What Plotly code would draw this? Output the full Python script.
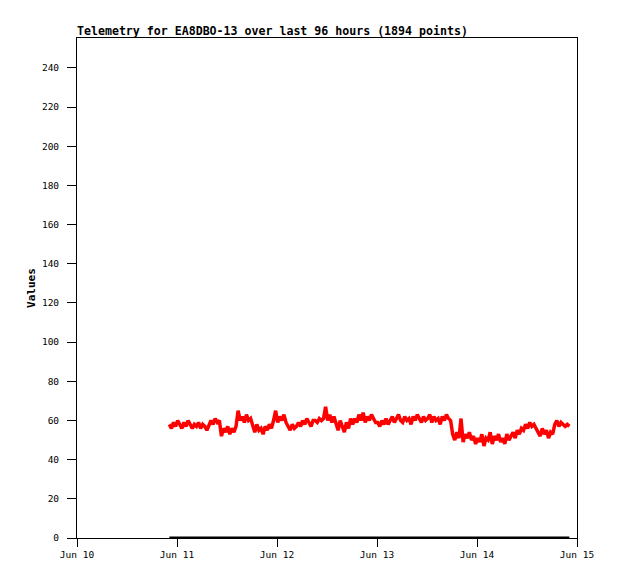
import pandas as pd
import plotly.graph_objects as go

START = "2024-06-10 22:10"
STEP = "30min"

values = [
    58, 56, 59, 57, 60, 58, 56, 59, 57, 60,
    58, 56, 58, 57, 59, 56, 58, 57, 55, 58,
    60, 58, 61, 59, 60,
    52, 56, 54, 57, 53, 56, 54, 57,
    65, 60, 62, 59, 63, 60, 61,
    57, 54, 58, 55, 56, 53, 57, 55, 58, 56,
    60, 65, 59, 62, 60, 63, 59,
    57, 55, 58, 56, 57,
    59, 57, 60, 58, 61, 59, 57, 60,
    60, 59, 61, 60, 61,
    67,
    60, 63, 59, 62,
    58, 55, 60, 57, 54, 59, 56, 61, 58,
    61, 59, 63, 60, 64, 59, 62, 60, 63, 61, 59,
    59, 57, 60, 58, 61, 58,
    60, 62, 59, 61, 63, 60, 59, 62, 60, 61,
    58, 62, 60, 63, 61, 59, 62, 60, 61, 63,
    59, 62, 60, 61, 58, 62, 60, 63, 61, 60,
    53, 50, 54, 51, 61, 49, 53, 51, 54, 50,
    52, 48, 51, 49, 53, 47, 51, 50, 54, 48,
    52, 50, 53, 49, 51, 48, 53, 50,
    52, 54, 51, 55, 53, 56, 55,
    58, 56, 59, 57, 58, 56,
    54, 52, 56, 53, 55, 51, 54, 53,
    58, 60, 57, 59, 58, 57, 58, 57,
]
zeros = [0] * len(values)
times = pd.date_range(START, periods=len(values), freq=STEP)

y_ticks = list(range(0, 241, 20))

mono = "DejaVu Sans Mono"

fig = go.Figure()
fig.add_trace(go.Scatter(x=times, y=zeros, mode="lines",
                         line=dict(color="black", width=3), hoverinfo="skip"))
fig.add_trace(go.Scatter(x=times, y=values, mode="lines",
                         line=dict(color="#ff0000", width=3.5)))

# page body adds 8px margin, so the figure is drawn 8px smaller
fig.update_layout(
    width=610, height=571,
    margin=dict(l=69, r=41, t=30, b=41),
    paper_bgcolor="white", plot_bgcolor="white",
    showlegend=False,
    title=dict(text="<b>Telemetry for EA8DBO-13 over last 96 hours (1894 points)</b>",
               x=69 / 610, xanchor="left", y=1 - 23 / 571, yanchor="middle",
               font=dict(family=mono, size=11.6, color="black")),
    font=dict(family=mono, size=9.5, color="black"),
)
fig.update_xaxes(
    range=["2024-06-10", "2024-06-15"], dtick=86400000, tickformat="%b %d",
    showgrid=False, zeroline=False,
    showline=True, linecolor="black", linewidth=1, mirror=True,
    ticks="outside", ticklen=8, tickcolor="black",
)
fig.update_yaxes(
    range=[0, 255.3], tickvals=y_ticks,
    showgrid=False, zeroline=False,
    showline=True, linecolor="black", linewidth=1, mirror=True,
    ticks="outside", ticklen=9, tickcolor="black", ticklabelstandoff=6,
    title=dict(text="<b>Values</b>", font=dict(family=mono, size=11), standoff=4),
)

fig.write_html("out.html")
